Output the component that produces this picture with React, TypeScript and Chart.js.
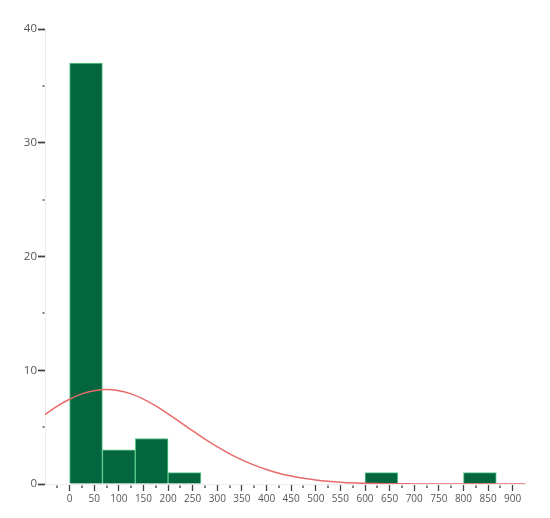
import React, { useEffect, useRef } from "react";
import { Chart, registerables } from "chart.js";

Chart.register(...registerables);

// Histogram bins (centres of 66.67-wide bins) and counts
const binCenters = [33.33, 100, 166.67, 233.33, 633.33, 833.33];
const binCounts = [37, 3, 4, 1, 1, 1];

// Fitted normal curve
const curveX = [
  -50, -25, 0, 25, 50, 75, 100, 125, 150, 175, 200, 225, 250, 275, 300, 325,
  350, 375, 400, 425, 450, 475, 500, 525, 550, 575, 600, 625, 650, 675, 700,
  725, 750, 775, 800, 825, 850, 875, 900, 925,
];
const curveY = [
  6.1, 6.85, 7.45, 7.92, 8.2, 8.3, 8.2, 7.92, 7.46, 6.86, 6.16, 5.42, 4.68,
  3.95, 3.27, 2.65, 2.12, 1.66, 1.27, 0.95, 0.7, 0.5, 0.35, 0.24, 0.16, 0.1,
  0.065, 0.04, 0.025, 0.015, 0.01, 0.005, 0, 0, 0, 0, 0, 0, 0, 0,
];

// Axis settings
const xMin = -50;
const xMax = 925;
const xStep = 25;
const xLabelStep = 50;
const xLabelMax = 900;
const yMin = 0;
const yMax = 40;
const yStep = 5;
const yLabelStep = 10;

const minorTicks = {
  id: "minorTicks",
  afterDraw(chart: any) {
    const ctx = chart.ctx;
    const xs = chart.scales.x;
    const ys = chart.scales.y;
    const area = chart.chartArea;
    ctx.save();
    ctx.fillStyle = "#555";
    xs.ticks.forEach((t: any) => {
      const v = t.value;
      if (v % xLabelStep !== 0 && v < xLabelMax) {
        const px = xs.getPixelForValue(v);
        ctx.fillRect(Math.round(px) - 0.75, area.bottom + 1.5, 1.5, 2.5);
      }
    });
    ys.ticks.forEach((t: any) => {
      const v = t.value;
      if (v % yLabelStep !== 0) {
        const py = ys.getPixelForValue(v);
        ctx.fillRect(area.left - 2.5, Math.round(py) - 0.75, 2, 1.5);
      }
    });
    ctx.restore();
  },
};

export default function App() {
  const ref = useRef<HTMLCanvasElement | null>(null);

  useEffect(() => {
    if (!ref.current) return;
    const chart = new Chart(ref.current, {
      type: "bar",
      data: {
        datasets: [
          {
            type: "line",
            label: "Normal",
            data: curveX.map((x, i) => ({ x, y: curveY[i] })),
            xAxisID: "x",
            yAxisID: "y",
            borderColor: "#e86a6a",
            borderWidth: 1.5,
            pointRadius: 0,
            tension: 0.4,
            fill: false,
            order: 0,
          } as any,
          {
            type: "bar",
            label: "Count",
            data: binCenters.map((x, i) => ({ x, y: binCounts[i] })),
            xAxisID: "x2",
            yAxisID: "y",
            backgroundColor: "#03663f",
            borderColor: "#5ccb8c",
            borderWidth: 1,
            categoryPercentage: 1,
            barPercentage: 1,
            grouped: false,
            order: 1,
          } as any,
        ],
      },
      options: {
        animation: false,
        responsive: true,
        maintainAspectRatio: false,
        layout: { padding: { top: 21, right: 17, left: 0, bottom: 0 } },
        plugins: {
          legend: { display: false },
          tooltip: { enabled: false },
        },
        scales: {
          x: {
            type: "linear",
            min: xMin,
            max: xMax,
            offset: false,
            afterFit: (s: any) => {
              s.height = 26;
            },
            ticks: {
              stepSize: xStep,
              autoSkip: false,
              maxRotation: 0,
              padding: 2,
              color: "#555",
              font: { family: "Open Sans", size: 10 },
              callback: (v: any) =>
                v >= 0 && v % xLabelStep === 0 ? String(v) : "",
            },
            grid: {
              offset: false,
              drawOnChartArea: false,
              drawTicks: true,
              tickLength: 7,
              tickWidth: 1.3,
              tickColor: (c: any) =>
                c.tick && c.tick.value >= 0 && c.tick.value % xLabelStep === 0
                  ? "#444"
                  : "rgba(0,0,0,0)",
            },
            border: { color: "#ececec", width: 1 },
          },
          x2: {
            type: "linear",
            min: xMin,
            max: xMax,
            offset: false,
            grid: { offset: false },
            display: false,
            afterBuildTicks: (s: any) => {
              s.ticks = [];
            },
          },
          y: {
            type: "linear",
            min: yMin,
            max: yMax,
            afterFit: (s: any) => {
              s.width = 37;
            },
            ticks: {
              stepSize: yStep,
              padding: 1,
              color: "#555",
              font: { family: "Open Sans", size: 11.5 },
              callback: (v: any) => (v % yLabelStep === 0 ? String(v) : ""),
            },
            grid: {
              drawOnChartArea: false,
              drawTicks: true,
              tickLength: 7,
              tickWidth: 1.8,
              tickColor: (c: any) =>
                c.tick && c.tick.value % yLabelStep === 0
                  ? "#444"
                  : "rgba(0,0,0,0)",
            },
            border: { color: "#ececec", width: 1 },
          },
        },
      },
      plugins: [minorTicks],
    });
    return () => chart.destroy();
  }, []);

  return (
    <div style={{ width: 534, height: 502, position: "relative" }}>
      <canvas ref={ref} />
    </div>
  );
}
